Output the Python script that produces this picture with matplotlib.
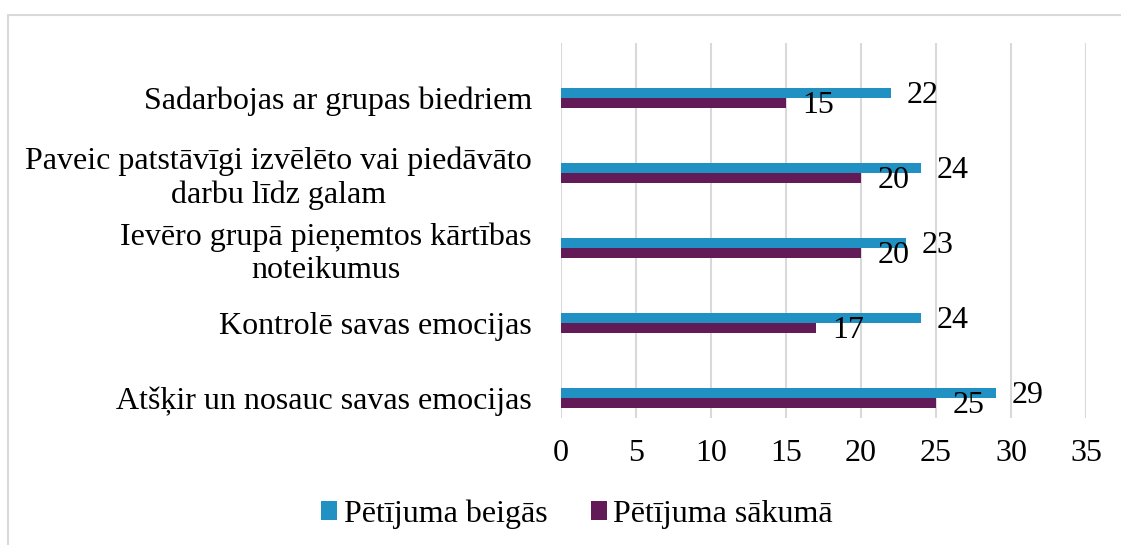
import matplotlib.pyplot as plt
from matplotlib.patches import Rectangle

# data, bottom to top as drawn
categories = [
    "Atšķir un nosauc savas emocijas",
    "Kontrolē savas emocijas",
    "Ievēro grupā pieņemtos kārtības\nnoteikumus",
    "Paveic patstāvīgi izvēlēto vai piedāvāto\ndarbu līdz galam",
    "Sadarbojas ar grupas biedriem",
]
beigas = [29, 24, 23, 24, 22]
sakuma = [25, 17, 20, 20, 15]
series_names = ["Pētījuma beigās", "Pētījuma sākumā"]

blue = "#2190c3"
purple = "#621b57"

plt.rcParams['font.family'] = ['Liberation Serif', 'DejaVu Serif']

fig = plt.figure(figsize=(11.21, 5.45), dpi=100)
W, H = 1121, 545
ax = fig.add_axes([561 / W, 1 - 418 / H, (1086 - 561) / W, (418 - 43) / H])

# light frame round the chart (runs off the right and bottom edges)
fig.patches.append(Rectangle((8 / W, -0.1), 1.2, 1.1 - 15 / H, transform=fig.transFigure,
                             fill=False, edgecolor="#d9d9d9", linewidth=1.5))

pos = list(range(len(categories)))
h = 10 / 75
b1 = ax.barh([p + h / 2 for p in pos], beigas, height=h, color=blue, label=series_names[0])
b2 = ax.barh([p - h / 2 for p in pos], sakuma, height=h, color=purple, label=series_names[1])

fs = 23
for rect, v in zip(b1, beigas):
    ax.annotate(str(v), (rect.get_width(), rect.get_y() + rect.get_height() / 2),
                xytext=(11, -1.5), textcoords="offset points", ha="left", va="center", fontsize=fs)
for rect, v in zip(b2, sakuma):
    ax.annotate(str(v), (rect.get_width(), rect.get_y() + rect.get_height() / 2),
                xytext=(12, -2), textcoords="offset points", ha="left", va="center", fontsize=fs)

ax.set_xlim(0, 35)
ax.set_xticks(range(0, 36, 5))
ax.set_ylim(-20 / 75, 4 + 55 / 75)
ax.set_yticks(pos)
ax.set_yticklabels(categories, fontsize=fs, multialignment="center", linespacing=1.2)
ax.tick_params(axis="y", length=0, pad=21)
ax.tick_params(axis="x", length=0, labelsize=fs, pad=15)
ax.grid(axis="x", color="#d9d9d9", linewidth=1.5)
ax.set_axisbelow(True)
for s in ax.spines.values():
    s.set_visible(False)

ax.legend(loc="center", bbox_to_anchor=(577 / W, 1 - 514 / H), bbox_transform=fig.transFigure,
          ncol=2, frameon=False, prop={'family': ['Liberation Serif'], 'size': fs},
          handlelength=0.5, handleheight=0.5, handletextpad=0.2, columnspacing=1.35)

fig.savefig("out.png", dpi=100)
